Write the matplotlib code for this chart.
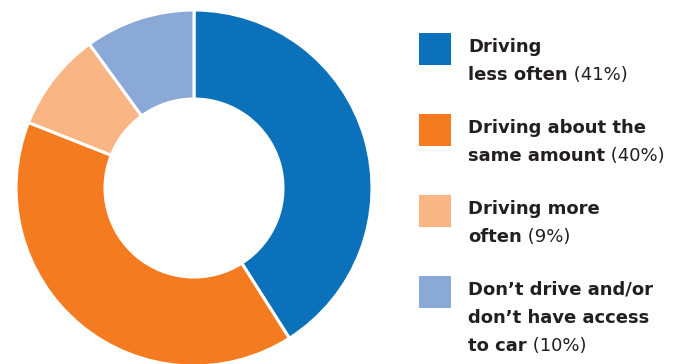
import matplotlib.pyplot as plt
from matplotlib.patches import Rectangle

# data
labels_bold = [["Driving", "less often"],
               ["Driving about the", "same amount"],
               ["Driving more", "often"],
               ["Don\u2019t drive and/or", "don\u2019t have access", "to car"]]
shares = [41, 40, 9, 10]
colors = ["#0B71BA", "#F47B20", "#F9B684", "#8BA9D6"]

W, H = 680, 364
fig = plt.figure(figsize=(W / 100, H / 100), dpi=100)

# donut: center (194, 188) px, radius 178 px
cx, cy, r = 194, 188, 178
ax = fig.add_axes([(cx - r) / W, (H - cy - r) / H, 2 * r / W, 2 * r / H])
ax.pie(shares, colors=colors, startangle=90, counterclock=False, radius=1,
       wedgeprops=dict(width=0.5, edgecolor="white", linewidth=2.2))
ax.set_xlim(-1, 1)
ax.set_ylim(-1, 1)
ax.set_aspect("equal")
ax.axis("off")

# legend drawn on an overlay axes in pixel units
lx = fig.add_axes([0, 0, 1, 1])
lx.set_xlim(0, W)
lx.set_ylim(H, 0)
lx.axis("off")

row_top = [33, 114, 195, 276]
txt_col = "#231F20"
font = "DejaVu Sans"
fs = 13
for i, lines in enumerate(labels_bold):
    lx.add_patch(Rectangle((419, row_top[i]), 32, 32, color=colors[i], lw=0))
    for j, line in enumerate(lines):
        y = row_top[i] + 19 + 28 * j
        t = lx.text(468, y, line, fontsize=fs, fontweight="bold", color=txt_col,
                    family=font, va="baseline", ha="left")
        if j == len(lines) - 1:
            lx.annotate(f" ({shares[i]}%)", xy=(1, 0), xycoords=t, va="bottom",
                        ha="left", fontsize=fs, color=txt_col, family=font)

fig.savefig("out.png", dpi=100)
